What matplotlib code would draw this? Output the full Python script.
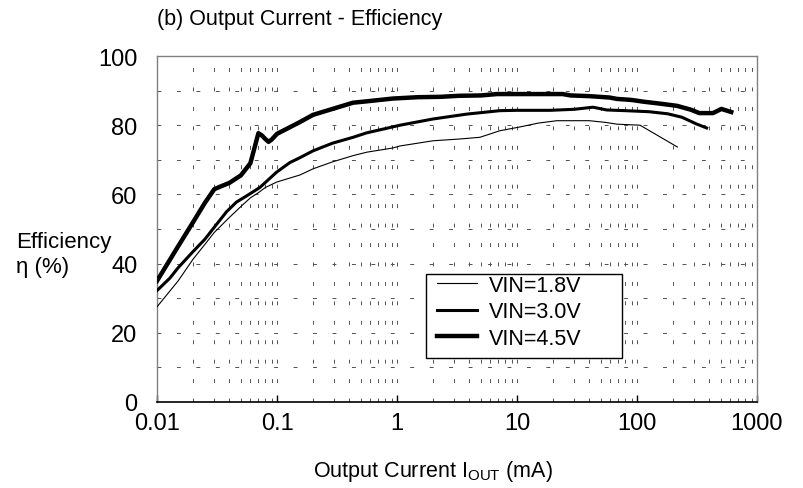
import matplotlib
matplotlib.use("Agg")
import matplotlib.pyplot as plt
from matplotlib.ticker import FixedLocator, NullFormatter
from matplotlib.patches import Rectangle

plt.rcParams['font.family'] = ['Liberation Sans', 'DejaVu Sans']
plt.rcParams['mathtext.fontset'] = 'custom'
plt.rcParams['mathtext.rm'] = 'Liberation Sans'
plt.rcParams['mathtext.it'] = 'Liberation Sans'

# ---- data ----
x_18 = [0.01, 0.015, 0.02, 0.025, 0.03, 0.04, 0.05, 0.06, 0.07, 0.08, 0.1, 0.155,
        0.2, 0.29, 0.43, 0.56, 0.92, 1.06, 2.0, 3.3, 4.9, 7.2, 10.6, 15, 21.5, 40,
        55, 68, 106, 217]
y_18 = [27.5, 35, 41.3, 45.5, 49, 53.3, 56.5, 59, 60.5, 62, 63.6, 65.6,
        67.4, 69.4, 71.2, 72.2, 73.4, 74, 75.5, 76, 76.5, 78.4, 79.5, 80.6, 81.3, 81.3,
        80.8, 80.3, 80, 73.7]

x_30 = [0.01, 0.0128, 0.015, 0.02, 0.025, 0.03, 0.038, 0.046, 0.056, 0.072, 0.099,
        0.128, 0.155, 0.2, 0.29, 0.43, 0.56, 0.92, 1.06, 2.0, 3.8, 7.2, 10, 19,
        30, 43, 56, 80, 126, 180, 237, 311, 380]
y_30 = [32.2, 35.8, 38.8, 43.5, 47, 50.5, 55, 57.8, 59.6, 62, 66.4,
        69.2, 70.6, 72.6, 74.8, 76.5, 77.8, 79.5, 80, 81.8, 83.2, 84.2, 84.3, 84.3,
        84.6, 85.2, 84.4, 84.2, 83.9, 83.3, 82.3, 80.4, 79.2]

x_45 = [0.01, 0.015, 0.02, 0.025, 0.03, 0.035, 0.04, 0.05, 0.06, 0.065, 0.07,
        0.075, 0.08, 0.085, 0.09, 0.1, 0.155, 0.2, 0.29, 0.43, 0.56, 0.92, 1.5,
        2.3, 3.3, 5, 6.8, 10, 15, 24, 28, 40, 59, 68, 90, 113, 150, 215, 280,
        330, 430, 505, 610]
y_45 = [35, 45, 52, 57.5, 61.5, 62.5, 63.3, 65.5, 69, 73.5, 77.7,
        77, 76, 75.2, 75.8, 77.5, 80.9, 83, 84.7, 86.5, 86.9, 87.7, 88.1,
        88.2, 88.5, 88.6, 89, 89, 89, 89, 88.6, 88.4, 88, 87.6, 87.3, 86.8, 86.3, 85.6, 84.5,
        83.5, 83.5, 84.7, 83.8]

labels = ["VIN=1.8V", "VIN=3.0V", "VIN=4.5V"]
y_ticks = [0, 20, 40, 60, 80, 100]
x_ticks = [0.01, 0.1, 1, 10, 100, 1000]
x_tick_labels = ["0.01", "0.1", "1", "10", "100", "1000"]

W, H = 804, 489
fig = plt.figure(figsize=(W / 100, H / 100), dpi=100)
ax = fig.add_axes([157 / W, 1 - 403 / H, (757 - 157) / W, (403 - 57) / H])

ax.set_xscale('log')
ax.set_xlim(0.01, 1000)
ax.set_ylim(0, 100)

# grid
gkw = dict(color='#505050', lw=0.7, ls=(0, (4, 16)), zorder=1)
for d in [0.01, 0.1, 1, 10, 100]:
    for m in range(2, 11):
        xv = d * m
        if xv < 1000:
            ax.axvline(xv, **gkw)
for yv in range(10, 100, 10):
    ax.axhline(yv, **gkw)

ax.plot(x_18, y_18, color='black', lw=0.8, label=labels[0], zorder=3)
ax.plot(x_30, y_30, color='black', lw=2.2, label=labels[1], zorder=3)
ax.plot(x_45, y_45, color='black', lw=3.2, label=labels[2], zorder=3)

ax.xaxis.set_major_locator(FixedLocator(x_ticks))
ax.set_xticklabels(x_tick_labels)
ax.xaxis.set_minor_locator(FixedLocator([]))
ax.xaxis.set_minor_formatter(NullFormatter())
ax.set_yticks(y_ticks)
ax.tick_params(axis='x', which='major', direction='in', length=5, width=1,
               labelsize=17, pad=7, color='black')
ax.tick_params(axis='y', length=0, labelsize=17, pad=14)

for s in ['top', 'right', 'left']:
    ax.spines[s].set_color('#808080')
    ax.spines[s].set_linewidth(1)
ax.spines['bottom'].set_color('black')
ax.spines['bottom'].set_linewidth(1.2)

# legend frame (manual box) + legend entries
box = Rectangle((426 / W, 1 - 359 / H), (622 - 426) / W, (359 - 275) / H,
                transform=fig.transFigure, facecolor='white', edgecolor='black',
                lw=1, zorder=4, clip_on=False)
ax.add_artist(box)
leg = ax.legend(loc='upper left', bbox_to_anchor=(437 / W, 1 - 276 / H),
                bbox_transform=fig.transFigure, fontsize=15.5, frameon=False,
                handlelength=1.85, handletextpad=0.55, labelspacing=0.25,
                borderpad=0, borderaxespad=0)
leg.set_zorder(5)

fig.text(157 / W, 1 - 20 / H, "(b) Output Current - Efficiency", fontsize=15.5,
         ha='left', va='center')
fig.text(16 / W, 1 - 243 / H, "Efficiency", fontsize=16, ha='left', va='center')
fig.text(16 / W, 1 - 268 / H, "η (%)", fontsize=16, ha='left', va='center')
fig.text(433 / W, 1 - 472 / H, r"Output Current I$_{\mathrm{OUT}}$ (mA)", fontsize=15.5,
         ha='center', va='center')

fig.savefig("out.png", dpi=100)
